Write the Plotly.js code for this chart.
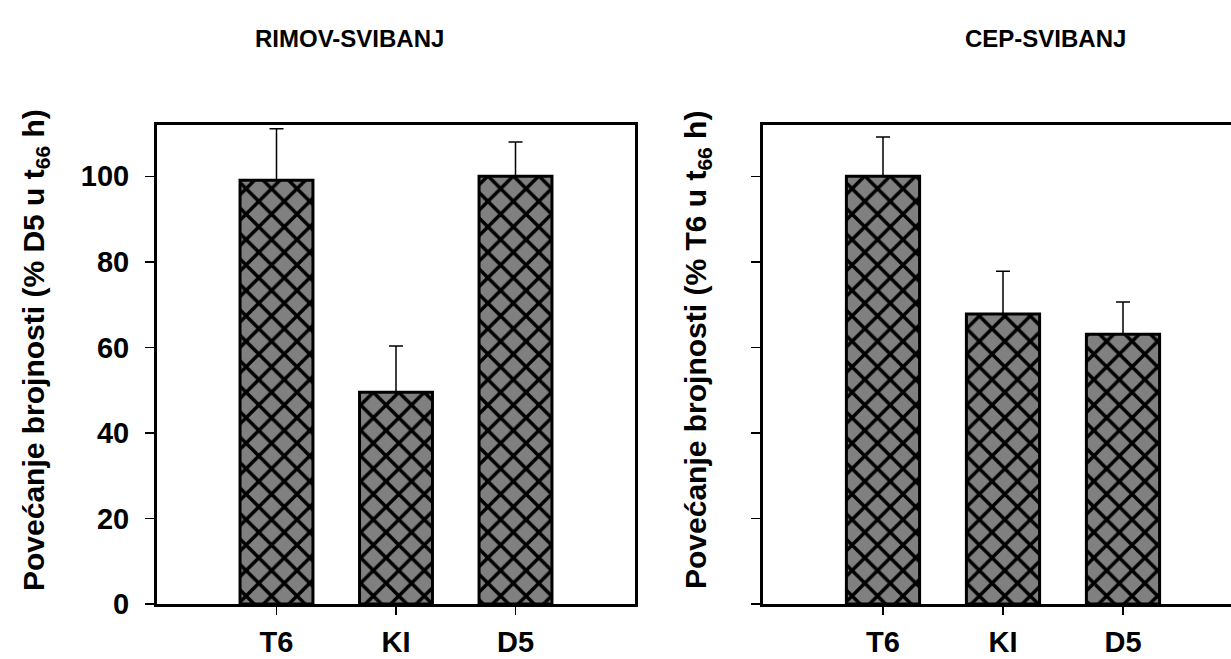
<!DOCTYPE html>
<html>
<head>
<meta charset="utf-8">
<script src="https://cdn.plot.ly/plotly-3.0.1.min.js"></script>
<style>html,body{margin:0;padding:0;background:#fff;}#chart{width:1231px;height:659px;}</style>
</head>
<body>
<div id="chart"></div>
<script>
// Data
var categories = ['T6', 'KI', 'D5'];
var rimovValues = [99.1, 49.5, 100.0];
var rimovErrors = [12.0, 10.8, 8.0];
var cepValues = [100.0, 67.8, 63.1];
var cepErrors = [9.2, 10.0, 7.5];
var titles = ['RIMOV-SVIBANJ', 'CEP-SVIBANJ'];
var yTitles = ['Povećanje brojnosti (% D5 u t<sub>66</sub> h)', 'Povećanje brojnosti (% T6 u t<sub>66</sub> h)'];
var yTicks = [0, 20, 40, 60, 80, 100];

var FONT = 'Liberation Sans, Arial, sans-serif';

function barTrace(vals, errs, xa, ya) {
  return {
    type: 'bar',
    x: categories,
    y: vals,
    xaxis: xa,
    yaxis: ya,
    width: 0.61,
    marker: {
      color: '#808080',
      line: {color: '#000', width: 3},
      pattern: {shape: 'x', fgcolor: '#000', bgcolor: '#808080', size: 18, solidity: 0.35, fillmode: 'replace'}
    },
    error_y: {type: 'data', symmetric: false, array: errs, arrayminus: errs.map(function(){return 0;}), color: '#000', thickness: 1.5, width: 7},
    showlegend: false,
    hoverinfo: 'none'
  };
}

var data = [
  barTrace(rimovValues, rimovErrors, 'x', 'y'),
  barTrace(cepValues, cepErrors, 'x2', 'y2')
];

var yb = (659 - 604) / 659, yt = (659 - 125) / 659;
var tickFont = {family: FONT, size: 29, color: '#000', weight: 'bold'};

var layout = {
  width: 1231, height: 659,
  margin: {l: 0, r: 0, t: 0, b: 0},
  paper_bgcolor: '#fff', plot_bgcolor: '#fff',
  bargap: 0.39,
  xaxis: {
    domain: [157/1231, 635/1231], type: 'category', range: [-1, 3],
    showline: true, linecolor: '#000', linewidth: 3, mirror: true,
    ticks: 'outside', ticklen: 8, tickwidth: 1.5, tickcolor: '#000',
    tickfont: tickFont, ticklabelstandoff: 2, showgrid: false, zeroline: false, fixedrange: true
  },
  yaxis: {
    domain: [yb, yt], range: [0, 112], tickvals: yTicks,
    showline: true, linecolor: '#000', linewidth: 3, mirror: true,
    ticks: 'outside', ticklen: 9, tickwidth: 1.5, tickcolor: '#000',
    tickfont: tickFont, ticklabelstandoff: 10, showgrid: false, zeroline: false, fixedrange: true
  },
  xaxis2: {
    domain: [763/1231, 1], type: 'category', range: [-1, 2.9], anchor: 'y2',
    showline: true, linecolor: '#000', linewidth: 3, mirror: true,
    ticks: 'outside', ticklen: 8, tickwidth: 1.5, tickcolor: '#000',
    tickfont: tickFont, ticklabelstandoff: 2, showgrid: false, zeroline: false, fixedrange: true
  },
  yaxis2: {
    domain: [yb, yt], range: [0, 112], tickvals: yTicks, showticklabels: false, anchor: 'x2',
    showline: true, linecolor: '#000', linewidth: 3, mirror: false,
    ticks: 'outside', ticklen: 9, tickwidth: 1.5, tickcolor: '#000',
    showgrid: false, zeroline: false, fixedrange: true
  },
  annotations: [
    {text: titles[0], xref: 'paper', yref: 'paper', x: 349/1231, y: (659-38)/659, xanchor: 'center', yanchor: 'middle', showarrow: false,
     font: {family: FONT, size: 24, color: '#000', weight: 'bold'}},
    {text: titles[1], xref: 'paper', yref: 'paper', x: 1045/1231, y: (659-38)/659, xanchor: 'center', yanchor: 'middle', showarrow: false,
     font: {family: FONT, size: 24, color: '#000', weight: 'bold'}},
    {text: yTitles[0], xref: 'paper', yref: 'paper', x: 35/1231, y: (659-350)/659, xanchor: 'center', yanchor: 'middle', textangle: -90, showarrow: false,
     font: {family: FONT, size: 30, color: '#000', weight: 'bold'}},
    {text: yTitles[1], xref: 'paper', yref: 'paper', x: 697/1231, y: (659-350)/659, xanchor: 'center', yanchor: 'middle', textangle: -90, showarrow: false,
     font: {family: FONT, size: 30, color: '#000', weight: 'bold'}}
  ]
};

Plotly.newPlot('chart', data, layout, {displayModeBar: false, staticPlot: true});
</script>
</body>
</html>
